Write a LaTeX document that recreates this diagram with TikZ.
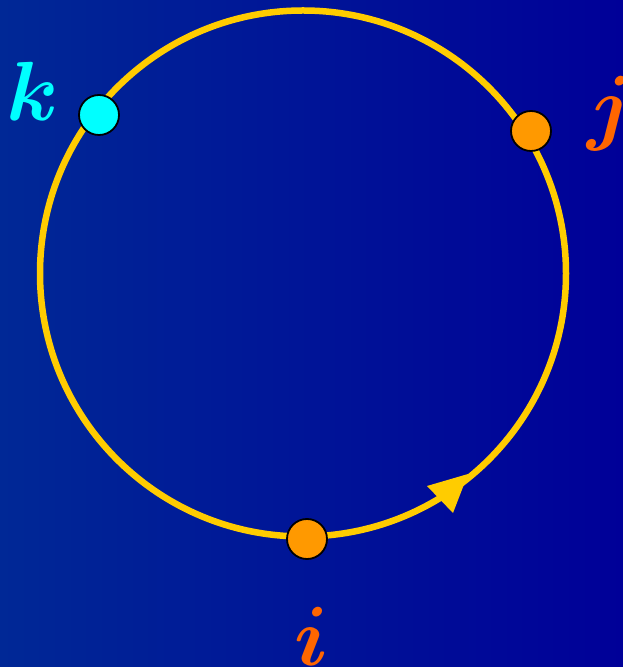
\documentclass[tikz,border=0pt]{standalone}
\usepackage{graphicx}
\usepackage{bm}
\definecolor{bgleft}{RGB}{0,40,150}
\definecolor{bgright}{RGB}{0,0,152}
\definecolor{ringcol}{RGB}{255,204,0}
\definecolor{dotorange}{RGB}{255,153,0}
\definecolor{labelorange}{RGB}{255,102,0}
\definecolor{dotcyan}{RGB}{0,255,255}
\newcommand{\biglbl}[1]{\scalebox{8.4}{$\bm{#1}$}}
\tikzset{
  dotnode/.style={circle, draw=black, line width=1.8pt, minimum size=40pt, inner sep=0pt},
  lbl/.style={inner sep=0pt},
}
\begin{document}
\begin{tikzpicture}[x=1pt,y=1pt]
\shade[left color=bgleft, right color=bgright] (0,0) rectangle (623,667);
\useasboundingbox (0,0) rectangle (623,667);
\coordinate (c) at (303,393.5);
\draw[ringcol, line width=6.5pt] (c) circle (263);
\fill[ringcol] (468,193) -- (427,181) -- (453,154) -- cycle;
\node[dotnode, fill=dotcyan] (k) at (99,552) {};
\node[dotnode, fill=dotorange] (j) at (531,536) {};
\node[dotnode, fill=dotorange] (i) at (307,128) {};
\node[lbl, text=dotcyan] (lk) at (33,576) {\biglbl{k}};
\node[lbl, text=labelorange] (lj) at (610,553) {\biglbl{j}};
\node[lbl, text=labelorange] (li) at (311,31) {\biglbl{i}};
\end{tikzpicture}
\end{document}
